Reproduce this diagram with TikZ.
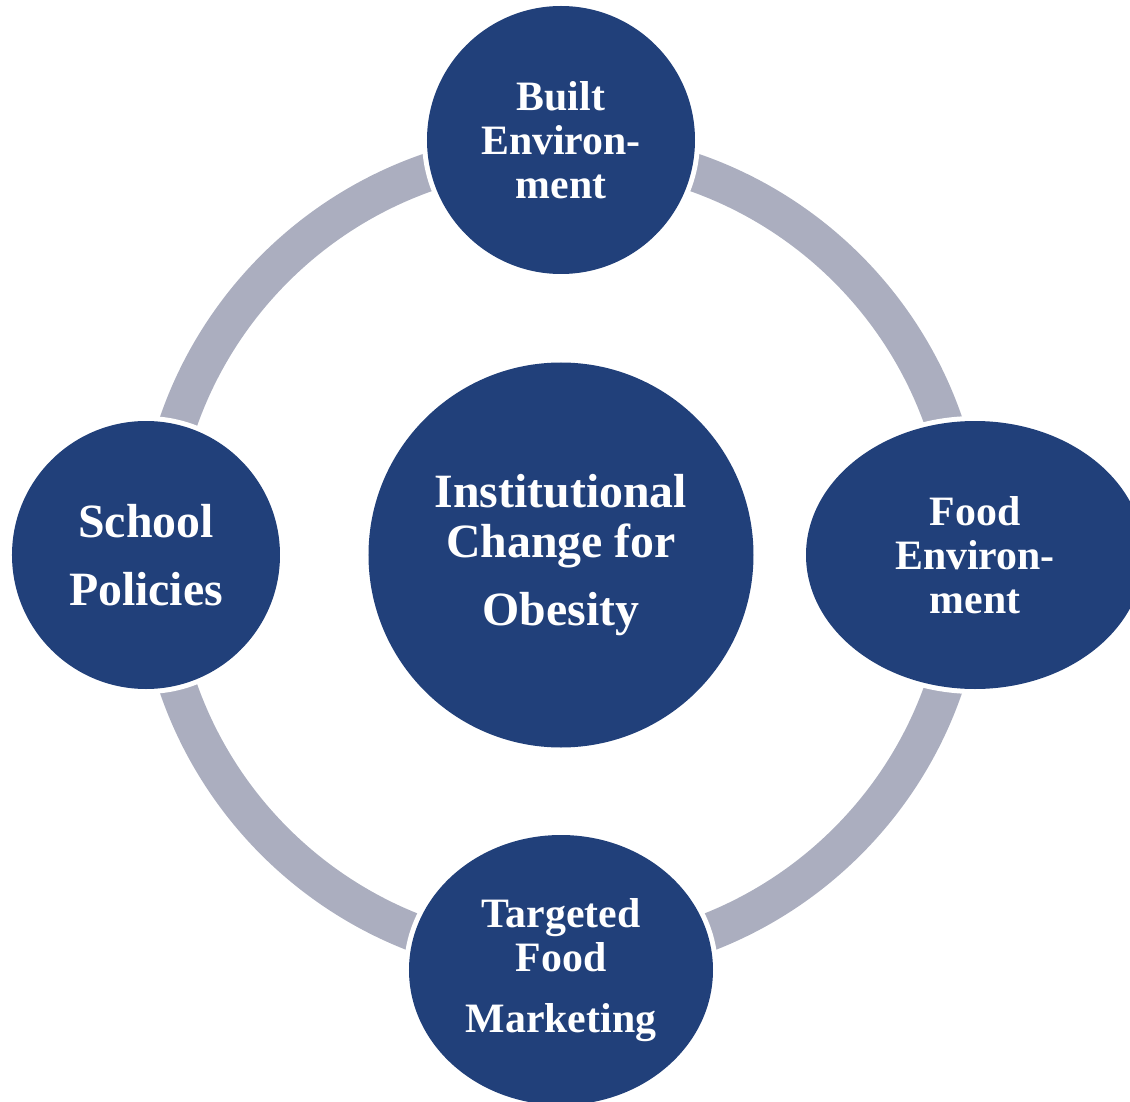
\documentclass[tikz,border=0pt]{standalone}
\usepackage{fontspec}
\setmainfont{Liberation Serif}
\usetikzlibrary{shapes.geometric}

\definecolor{bubblenavy}{RGB}{33,64,122}
\definecolor{ringgray}{RGB}{171,174,191}

\tikzset{
	bubble/.style={fill=bubblenavy, text=white, inner sep=0pt, align=center,
		preaction={draw=white, line width=2mm}},
	smalltext/.style={font=\fontsize{23.8}{24.9}\selectfont\bfseries},
	bigtext/.style={font=\fontsize{27.2}{28.3}\selectfont\bfseries}
}

\begin{document}
\begin{tikzpicture}
			%%%%% START %%%%%
			
			\useasboundingbox (-11.22, -10.92) rectangle (11.38, 11.10);
			
			\draw[line width=7.6mm, color=ringgray] (0, 0) circle (8.1);
			
			\node[bubble, bigtext, circle, minimum size=7.7cm] (obesity) at (0, 0)
				{Institutional\\Change for\\[10.4pt]Obesity};
			
			\node[bubble, smalltext, circle, minimum size=5.36cm] (built) at (0, 8.3)
				{Built\\Environ-\\ment};
			\node[bubble, smalltext, ellipse, minimum width=6.76cm, minimum height=5.36cm] (food) at (8.28, 0)
				{Food\\Environ-\\ment};
			\node[bubble, smalltext, ellipse, minimum width=6.08cm, minimum height=5.4cm] (marketing) at (0, -8.3)
				{Targeted\\Food\\[9.6pt]Marketing};
			\node[bubble, bigtext, circle, minimum size=5.36cm] (school) at (-8.3, 0)
				{School\\[10.2pt]Policies};
			
			%%%%% END %%%%%
\end{tikzpicture}
\end{document}
